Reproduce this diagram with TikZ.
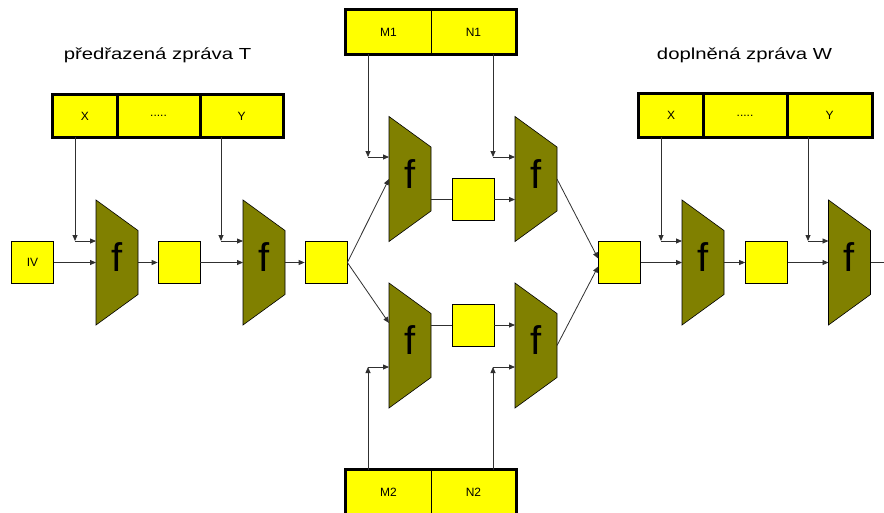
\documentclass[tikz,border=0pt]{standalone}
\usepackage{fontspec}
\setmainfont{Liberation Sans}
\usetikzlibrary{arrows.meta}
\definecolor{kyellow}{HTML}{FFFF00}
\definecolor{kolive}{HTML}{808000}
\definecolor{lineg}{HTML}{303030}
\begin{document}
\begin{tikzpicture}[x=1pt,y=-1pt,
  box/.style={draw=black,line width=0.7pt,fill=kyellow,minimum width=42pt,minimum height=42pt,inner sep=0pt,font=\fontsize{12}{14}\selectfont},
  cell/.style={draw=black,line width=0.7pt,fill=kyellow,inner sep=0pt,font=\fontsize{12}{14}\selectfont},
  frame/.style={draw=black,line width=3.5pt},
  divider/.style={draw=black,line width=2.5pt},
  conn/.style={draw=lineg,line width=0.8pt},
  arr/.style={conn,-{Triangle[length=6pt,width=5pt]}},
  title/.style={font=\fontsize{16}{19}\selectfont,anchor=base,inner sep=0pt},
  ftext/.style={font=\fontsize{40}{44}\selectfont,inner sep=0pt},
  fblock/.pic={
    \filldraw[fill=kolive,draw=black,line width=0.6pt] (-21,-62.5) -- (21,-32) -- (21,32) -- (-21,62.5) -- cycle;
    \node[ftext] (-c) at (0,-5) {f};
    \coordinate (-l) at (-21,0);
    \coordinate (-r) at (21,0);
  }
]
\clip (0,0) rectangle (884,512);
\fill[white] (0,0) rectangle (884,512);

% titles
\node[title] (tT) at (157.5,59) {\scalebox{1.27}[1]{předřazená zpráva T}};
\node[title] (tW) at (744.5,59) {\scalebox{1.27}[1]{doplněná zpráva W}};

% key boxes left
\node[cell,minimum width=64pt,minimum height=42pt] (tX) at (85,116) {X};
\node[cell,minimum width=83pt,minimum height=42pt] (tD) at (158.5,116) {.....};
\node[cell,minimum width=83pt,minimum height=42pt] (tY) at (241.5,116) {Y};
\draw[divider] (tX.north east) -- (tX.south east);
\draw[divider] (tD.north east) -- (tD.south east);
\draw[frame] (tX.north west) rectangle (tY.south east);

% key boxes right
\node[cell,minimum width=64pt,minimum height=43pt] (wX) at (671,115.5) {X};
\node[cell,minimum width=84pt,minimum height=43pt] (wD) at (745,115.5) {.....};
\node[cell,minimum width=85pt,minimum height=43pt] (wY) at (829.5,115.5) {Y};
\draw[divider] (wX.north east) -- (wX.south east);
\draw[divider] (wD.north east) -- (wD.south east);
\draw[frame] (wX.north west) rectangle (wY.south east);

% M1 N1
\node[cell,minimum width=85pt,minimum height=44pt] (m1) at (388.5,32) {M1};
\node[cell,minimum width=85pt,minimum height=44pt] (n1) at (473.5,32) {N1};
\draw[frame] (m1.north west) rectangle (n1.south east);

% M2 N2
\node[cell,minimum width=85pt,minimum height=44pt] (m2) at (388.5,492) {M2};
\node[cell,minimum width=85pt,minimum height=44pt] (n2) at (473.5,492) {N2};
\draw[frame] (m2.north west) rectangle (n2.south east);

% yellow boxes
\node[box] (iv) at (32.5,262.5) {IV};
\node[box] (b2) at (179,262.5) {};
\node[box] (b3) at (326,262.5) {};
\node[box] (bt) at (473,199.5) {};
\node[box] (bb) at (473,325) {};
\node[box] (b4) at (619.5,262.5) {};
\node[box] (b5) at (766.5,262.5) {};

% f blocks
\pic (f1) at (117,262.5) {fblock};
\pic (f2) at (264,262.5) {fblock};
\pic (f3) at (410,179) {fblock};
\pic (f4) at (536,179) {fblock};
\pic (f5) at (410,345.5) {fblock};
\pic (f6) at (536,345.5) {fblock};
\pic (f7) at (703,262.5) {fblock};
\pic (f8) at (849.5,262.5) {fblock};

% key corners
\coordinate (k1) at (75,241);
\coordinate (k2) at (221,241);
\coordinate (k3) at (368,157);
\coordinate (k4) at (493,157);
\coordinate (k5) at (368,367);
\coordinate (k6) at (493,367);
\coordinate (k7) at (661,241);
\coordinate (k8) at (808,241);
\coordinate (out) at (884,262.5);

% key connectors
\draw[arr] (tX.south -| k1) -- (k1);
\draw[arr] (k1) -- (k1 -| f1-l);
\draw[arr] (tY.south -| k2) -- (k2);
\draw[arr] (k2) -- (k2 -| f2-l);
\draw[arr] (m1.south -| k3) -- (k3);
\draw[arr] (k3) -- (k3 -| f3-l);
\draw[arr] (n1.south -| k4) -- (k4);
\draw[arr] (k4) -- (k4 -| f4-l);
\draw[arr] (m2.north -| k5) -- (k5);
\draw[arr] (k5) -- (k5 -| f5-l);
\draw[arr] (n2.north -| k6) -- (k6);
\draw[arr] (k6) -- (k6 -| f6-l);
\draw[arr] (wX.south -| k7) -- (k7);
\draw[arr] (k7) -- (k7 -| f7-l);
\draw[arr] (wY.south -| k8) -- (k8);
\draw[arr] (k8) -- (k8 -| f8-l);

% data path
\draw[arr] (iv.east) -- (f1-l);
\draw[arr] (f1-r) -- (b2.west);
\draw[arr] (b2.east) -- (f2-l);
\draw[arr] (f2-r) -- (b3.west);
\draw[arr] (b3.east) -- (f3-l);
\draw[arr] (b3.east) -- ([yshift=2pt]bb.west -| f5-l);
\draw[conn] (bt.west -| f3-r) -- (bt.west);
\draw[arr] (bt.east) -- (bt.east -| f4-l);
\draw[conn] (bb.west -| f5-r) -- (bb.west);
\draw[arr] (bb.east) -- (bb.east -| f6-l);
\draw[arr] (f4-r) -- ([yshift=4pt]b4.west);
\draw[arr] (f6-r) -- ([yshift=-4pt]b4.west);
\draw[arr] (b4.east) -- (f7-l);
\draw[arr] (f7-r) -- (b5.west);
\draw[arr] (b5.east) -- (f8-l);
\draw[conn] (f8-r) -- (out);
\end{tikzpicture}
\end{document}
